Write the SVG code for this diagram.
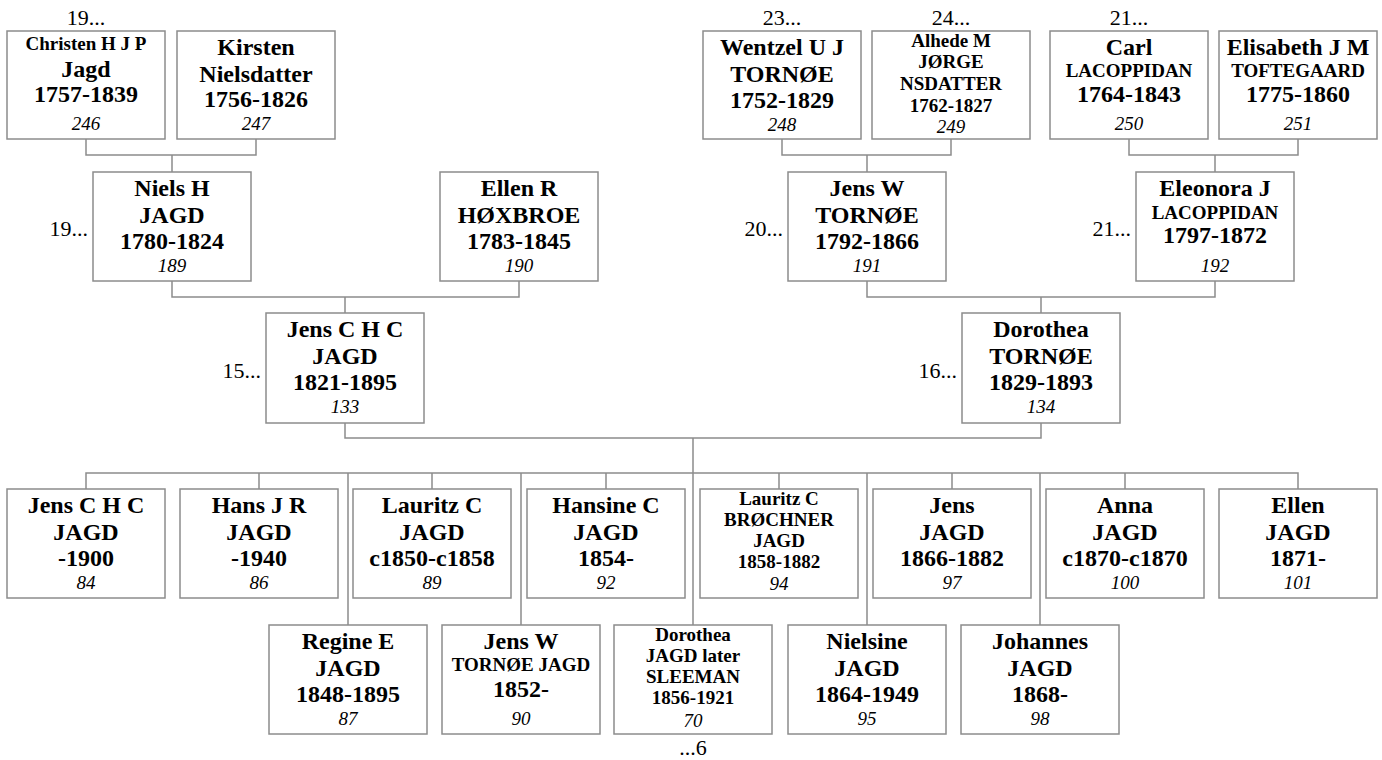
<svg xmlns="http://www.w3.org/2000/svg" width="1382" height="760" viewBox="0 0 1382 760">
<style>
rect.b{fill:#fff;stroke:#8c8c8c;stroke-width:1.5}
.c path{fill:none;stroke:#8c8c8c;stroke-width:1.5}
text{font-family:"Liberation Serif","Times New Roman",serif;fill:#000;text-anchor:middle}
.n{font-size:24px;font-weight:bold}
.s{font-size:19px;font-weight:bold}
.i{font-size:19px;font-style:italic}
.l{font-size:22px}
.r{text-anchor:end}
</style>
<rect width="1382" height="760" fill="#fff"/>
<g class="c">
<path d="M86,139V155H256V139M172,155V172"/>
<path d="M782,139V155H951V139M867,155V172"/>
<path d="M1129,139V155H1298V139M1215,155V172"/>
<path d="M172,281V297H519V281M345,297V313"/>
<path d="M867,281V297H1215V281M1041,297V313"/>
<path d="M345,423V438H1041V423M693,438V625"/>
<path d="M86,489V473H1298V489M259,473V489M432,473V489M606,473V489M779,473V489M952,473V489M1125,473V489"/>
<path d="M348,473V625M521,473V625M867,473V625M1040,473V625"/>
</g>
<g id="labels">
<text class="l" x="86" y="25">19...</text>
<text class="l" x="782" y="25">23...</text>
<text class="l" x="951" y="25">24...</text>
<text class="l" x="1129" y="25">21...</text>
<text class="l r" x="88" y="236">19...</text>
<text class="l r" x="783" y="236">20...</text>
<text class="l r" x="1131" y="236">21...</text>
<text class="l r" x="261" y="378">15...</text>
<text class="l r" x="957" y="378">16...</text>
<text class="l" x="693" y="755">...6</text>
</g>
<g id="p246"><rect class="b" x="7" y="31" width="158" height="108"/>
<text class="s" x="86" y="50">Christen H J P</text><text class="n" x="86" y="77">Jagd</text><text class="n" x="86" y="102">1757-1839</text><text class="i" x="86" y="130">246</text></g>
<g id="p247"><rect class="b" x="177" y="31" width="158" height="108"/>
<text class="n" x="256" y="55">Kirsten</text><text class="n" x="256" y="82">Nielsdatter</text><text class="n" x="256" y="107">1756-1826</text><text class="i" x="256" y="130">247</text></g>
<g id="p248"><rect class="b" x="703" y="31" width="158" height="108"/>
<text class="n" x="782" y="55">Wentzel U J</text><text class="n" x="782" y="82">TORNØE</text><text class="n" x="782" y="108">1752-1829</text><text class="i" x="782" y="131">248</text></g>
<g id="p249"><rect class="b" x="872" y="31" width="158" height="108"/>
<text class="s" x="951" y="47">Alhede M</text><text class="s" x="951" y="68">JØRGE</text><text class="s" x="951" y="90">NSDATTER</text><text class="s" x="951" y="112">1762-1827</text><text class="i" x="951" y="133">249</text></g>
<g id="p250"><rect class="b" x="1050" y="31" width="158" height="108"/>
<text class="n" x="1129" y="55">Carl</text><text class="s" x="1129" y="77">LACOPPIDAN</text><text class="n" x="1129" y="102">1764-1843</text><text class="i" x="1129" y="130">250</text></g>
<g id="p251"><rect class="b" x="1219" y="31" width="158" height="108"/>
<text class="n" x="1298" y="55">Elisabeth J M</text><text class="s" x="1298" y="77">TOFTEGAARD</text><text class="n" x="1298" y="102">1775-1860</text><text class="i" x="1298" y="130">251</text></g>
<g id="p189"><rect class="b" x="93" y="172" width="158" height="109"/>
<text class="n" x="172" y="196">Niels H</text><text class="n" x="172" y="223">JAGD</text><text class="n" x="172" y="249">1780-1824</text><text class="i" x="172" y="272">189</text></g>
<g id="p190"><rect class="b" x="440" y="172" width="158" height="109"/>
<text class="n" x="519" y="196">Ellen R</text><text class="n" x="519" y="223">HØXBROE</text><text class="n" x="519" y="249">1783-1845</text><text class="i" x="519" y="272">190</text></g>
<g id="p191"><rect class="b" x="788" y="172" width="158" height="109"/>
<text class="n" x="867" y="196">Jens W</text><text class="n" x="867" y="223">TORNØE</text><text class="n" x="867" y="249">1792-1866</text><text class="i" x="867" y="272">191</text></g>
<g id="p192"><rect class="b" x="1136" y="172" width="158" height="109"/>
<text class="n" x="1215" y="196">Eleonora J</text><text class="s" x="1215" y="219">LACOPPIDAN</text><text class="n" x="1215" y="243">1797-1872</text><text class="i" x="1215" y="272">192</text></g>
<g id="p133"><rect class="b" x="266" y="313" width="158" height="110"/>
<text class="n" x="345" y="337">Jens C H C</text><text class="n" x="345" y="364">JAGD</text><text class="n" x="345" y="390">1821-1895</text><text class="i" x="345" y="413">133</text></g>
<g id="p134"><rect class="b" x="962" y="313" width="158" height="110"/>
<text class="n" x="1041" y="337">Dorothea</text><text class="n" x="1041" y="364">TORNØE</text><text class="n" x="1041" y="390">1829-1893</text><text class="i" x="1041" y="413">134</text></g>
<g id="p84"><rect class="b" x="7" y="489" width="158" height="109"/>
<text class="n" x="86" y="513">Jens C H C</text><text class="n" x="86" y="540">JAGD</text><text class="n" x="86" y="566">-1900</text><text class="i" x="86" y="589">84</text></g>
<g id="p86"><rect class="b" x="180" y="489" width="158" height="109"/>
<text class="n" x="259" y="513">Hans J R</text><text class="n" x="259" y="540">JAGD</text><text class="n" x="259" y="566">-1940</text><text class="i" x="259" y="589">86</text></g>
<g id="p89"><rect class="b" x="353" y="489" width="158" height="109"/>
<text class="n" x="432" y="513">Lauritz C</text><text class="n" x="432" y="540">JAGD</text><text class="n" x="432" y="566">c1850-c1858</text><text class="i" x="432" y="589">89</text></g>
<g id="p92"><rect class="b" x="527" y="489" width="158" height="109"/>
<text class="n" x="606" y="513">Hansine C</text><text class="n" x="606" y="540">JAGD</text><text class="n" x="606" y="566">1854-</text><text class="i" x="606" y="589">92</text></g>
<g id="p94"><rect class="b" x="700" y="489" width="158" height="109"/>
<text class="s" x="779" y="505">Lauritz C</text><text class="s" x="779" y="526">BRØCHNER</text><text class="s" x="779" y="547">JAGD</text><text class="s" x="779" y="568">1858-1882</text><text class="i" x="779" y="590">94</text></g>
<g id="p97"><rect class="b" x="873" y="489" width="158" height="109"/>
<text class="n" x="952" y="513">Jens</text><text class="n" x="952" y="540">JAGD</text><text class="n" x="952" y="566">1866-1882</text><text class="i" x="952" y="589">97</text></g>
<g id="p100"><rect class="b" x="1046" y="489" width="158" height="109"/>
<text class="n" x="1125" y="513">Anna</text><text class="n" x="1125" y="540">JAGD</text><text class="n" x="1125" y="566">c1870-c1870</text><text class="i" x="1125" y="589">100</text></g>
<g id="p101"><rect class="b" x="1219" y="489" width="158" height="109"/>
<text class="n" x="1298" y="513">Ellen</text><text class="n" x="1298" y="540">JAGD</text><text class="n" x="1298" y="566">1871-</text><text class="i" x="1298" y="589">101</text></g>
<g id="p87"><rect class="b" x="269" y="625" width="158" height="109"/>
<text class="n" x="348" y="649">Regine E</text><text class="n" x="348" y="676">JAGD</text><text class="n" x="348" y="702">1848-1895</text><text class="i" x="348" y="725">87</text></g>
<g id="p90"><rect class="b" x="442" y="625" width="158" height="109"/>
<text class="n" x="521" y="649">Jens W</text><text class="s" x="521" y="671">TORNØE JAGD</text><text class="n" x="521" y="697">1852-</text><text class="i" x="521" y="725">90</text></g>
<g id="p70"><rect class="b" x="614" y="625" width="158" height="109"/>
<text class="s" x="693" y="641">Dorothea</text><text class="s" x="693" y="662">JAGD later</text><text class="s" x="693" y="683">SLEEMAN</text><text class="s" x="693" y="704">1856-1921</text><text class="i" x="693" y="727">70</text></g>
<g id="p95"><rect class="b" x="788" y="625" width="158" height="109"/>
<text class="n" x="867" y="649">Nielsine</text><text class="n" x="867" y="676">JAGD</text><text class="n" x="867" y="702">1864-1949</text><text class="i" x="867" y="725">95</text></g>
<g id="p98"><rect class="b" x="961" y="625" width="158" height="109"/>
<text class="n" x="1040" y="649">Johannes</text><text class="n" x="1040" y="676">JAGD</text><text class="n" x="1040" y="702">1868-</text><text class="i" x="1040" y="725">98</text></g>
</svg>
